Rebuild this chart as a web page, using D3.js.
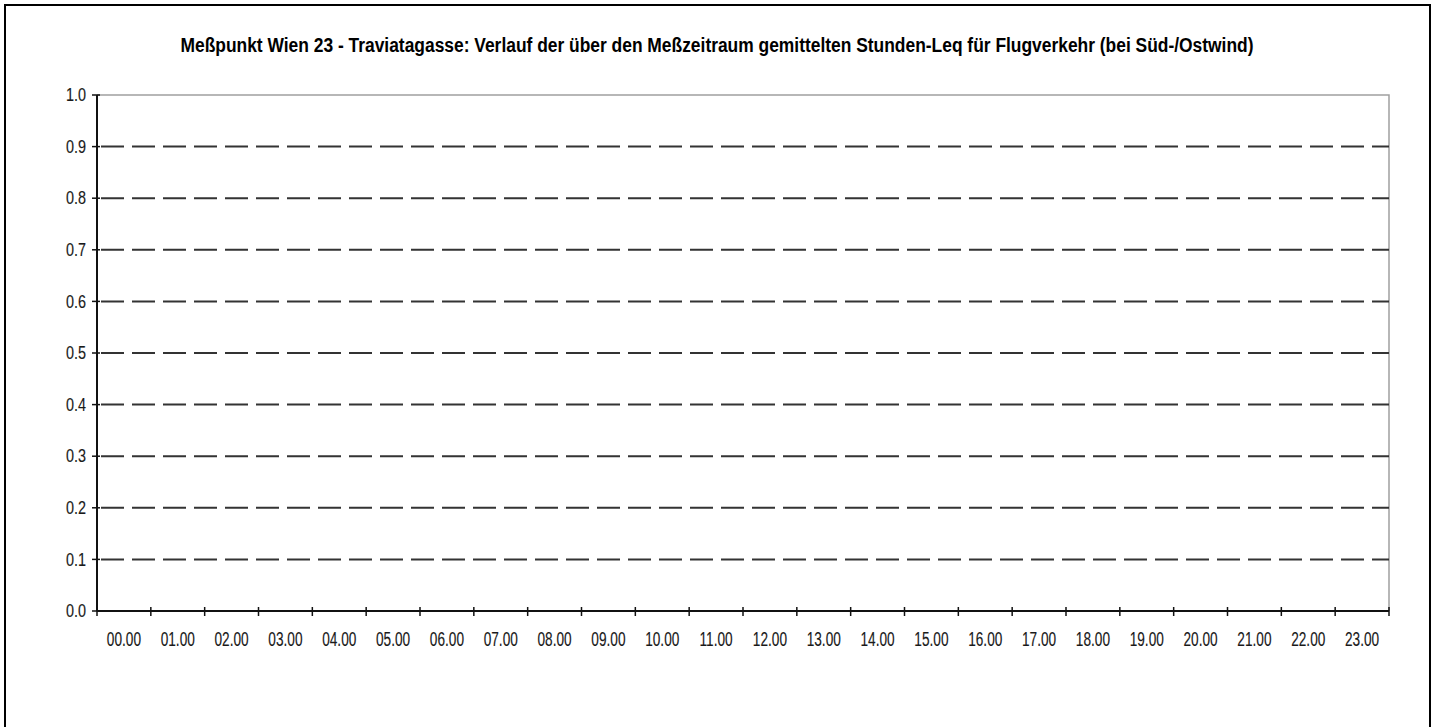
<!DOCTYPE html>
<html>
<head>
<meta charset="utf-8">
<script src="https://cdn.jsdelivr.net/npm/d3@7"></script>
<style>
  body { margin: 0; background: #fff; }
  svg { display: block; }
  .tick-label { font-family: "Liberation Sans", Arial, sans-serif; fill: #1a1a1a; stroke: #1a1a1a; stroke-width: 0.15px; }
  .title { font-family: "Liberation Sans", Arial, sans-serif; font-size: 20px; font-weight: bold; fill: #000; }
</style>
</head>
<body>
<svg id="chart"></svg>
<script>
// categories: hour of day
const hours = ['00.00', '01.00', '02.00', '03.00', '04.00', '05.00', '06.00', '07.00',
  '08.00', '09.00', '10.00', '11.00', '12.00', '13.00', '14.00', '15.00',
  '16.00', '17.00', '18.00', '19.00', '20.00', '21.00', '22.00', '23.00'];
// y tick values
const yTicks = [0.0, 0.1, 0.2, 0.3, 0.4, 0.5, 0.6, 0.7, 0.8, 0.9, 1.0];
// hourly Leq values for aircraft noise -- none recorded in the source chart
const leqValues = [];
const titleText = 'Meßpunkt Wien 23 - Traviatagasse: Verlauf der über den Meßzeitraum gemittelten Stunden-Leq für Flugverkehr (bei Süd-/Ostwind)';

const width = 1438, height = 727;
const margin = {top: 95, right: 49, bottom: 116, left: 97};
const innerW = width - margin.left - margin.right;
const innerH = height - margin.top - margin.bottom;

// the original uses a narrow font, so squeeze the labels horizontally
const yLabelScale = 0.8, xLabelScale = 0.7;

const svg = d3.select('#chart')
    .attr('width', width)
    .attr('height', height);

// outer chart frame (runs past the bottom of the picture)
svg.append('rect')
    .attr('x', 5).attr('y', 5)
    .attr('width', 1425).attr('height', 800)
    .attr('fill', '#fff')
    .attr('stroke', '#000')
    .attr('stroke-width', 2);

// title
svg.append('text')
    .attr('class', 'title')
    .attr('x', 717)
    .attr('y', 52)
    .attr('text-anchor', 'middle')
    .attr('textLength', 1073)
    .attr('lengthAdjust', 'spacingAndGlyphs')
    .text(titleText);

const chart = svg.append('g')
    .attr('transform', `translate(${margin.left},${margin.top})`);

const xScale = d3.scaleBand()
    .domain(hours)
    .range([0, innerW])
    .padding(0);

const yScale = d3.scaleLinear()
    .domain([0, 1])
    .range([innerH, 0]);

// plot area border (top / right in grey)
chart.append('path')
    .attr('d', `M0,${yScale(1)}H${innerW}V${yScale(0)}`)
    .attr('fill', 'none')
    .attr('stroke', '#a0a0a0')
    .attr('stroke-width', 1.5);

// dashed gridlines
chart.selectAll('.grid')
    .data(yTicks.filter(d => d > 0 && d < 1))
  .join('line')
    .attr('class', 'grid')
    .attr('x1', 0)
    .attr('x2', innerW)
    .attr('y1', d => yScale(d))
    .attr('y2', d => yScale(d))
    .attr('stroke', '#333')
    .attr('stroke-width', 2)
    .attr('stroke-dasharray', '23,8')
    .attr('stroke-dashoffset', -4);

// y axis
const yAxis = d3.axisLeft(yScale)
    .tickValues(yTicks)
    .tickSize(0)
    .tickPadding(11)
    .tickFormat(d3.format('.1f'));

const yAxisG = chart.append('g').call(yAxis);
yAxisG.select('.domain').remove();
yAxisG.selectAll('text')
    .attr('class', 'tick-label')
    .attr('font-size', 18)
    .attr('font-family', null)
    .attr('x', -11 / yLabelScale)
    .attr('transform', `scale(${yLabelScale},1)`);

chart.selectAll('.ytick')
    .data(yTicks)
  .join('line')
    .attr('class', 'ytick')
    .attr('x1', -5).attr('x2', 3)
    .attr('y1', d => yScale(d)).attr('y2', d => yScale(d))
    .attr('stroke', '#111')
    .attr('stroke-width', 1.5);

chart.append('line')
    .attr('x1', 0).attr('x2', 0)
    .attr('y1', yScale(1)).attr('y2', yScale(0))
    .attr('stroke', '#111')
    .attr('stroke-width', 2);

// x axis: labels centred in each band, ticks on band boundaries
const xAxis = d3.axisBottom(xScale)
    .tickSize(0)
    .tickPadding(21);

const xAxisG = chart.append('g')
    .attr('transform', `translate(0,${innerH})`)
    .call(xAxis);
xAxisG.select('.domain').remove();
xAxisG.selectAll('text')
    .attr('class', 'tick-label')
    .attr('font-size', 19.5)
    .attr('font-family', null)
    .attr('transform', `scale(${xLabelScale},1)`);

const boundaries = hours.map(h => xScale(h)).concat([xScale.range()[1]]);
chart.selectAll('.xtick')
    .data(boundaries)
  .join('line')
    .attr('class', 'xtick')
    .attr('x1', d => d).attr('x2', d => d)
    .attr('y1', innerH - 4).attr('y2', innerH + 5)
    .attr('stroke', '#111')
    .attr('stroke-width', 1.5);

chart.append('line')
    .attr('x1', 0).attr('x2', innerW)
    .attr('y1', innerH).attr('y2', innerH)
    .attr('stroke', '#111')
    .attr('stroke-width', 2);

// series line (empty in the original)
chart.append('path')
    .datum(leqValues)
    .attr('fill', 'none')
    .attr('stroke', '#000')
    .attr('stroke-width', 2)
    .attr('d', d3.line()
        .x((d, i) => xScale(hours[i]) + xScale.bandwidth() / 2)
        .y(d => yScale(d)));
</script>
</body>
</html>
